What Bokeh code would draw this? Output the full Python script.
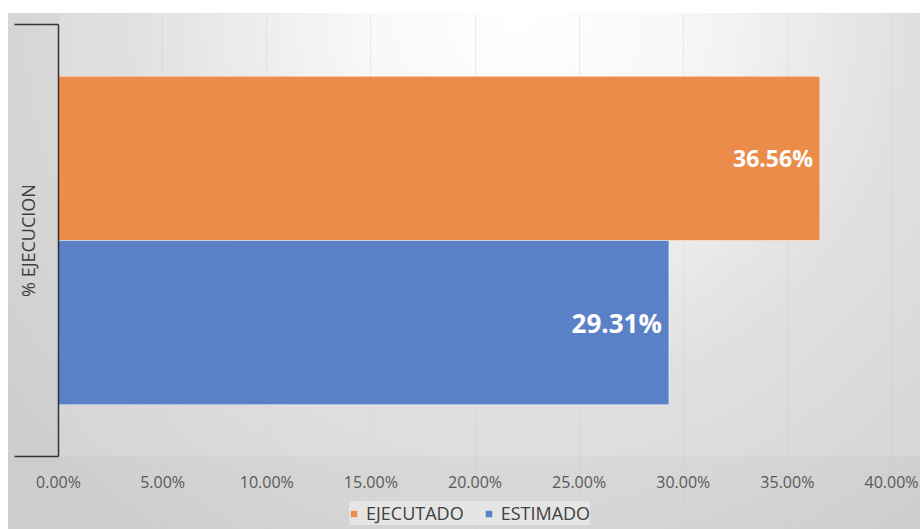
from bokeh.plotting import figure
from bokeh.models import (Range1d, FixedTicker, Legend, LegendItem, ColumnDataSource,
                          BoxAnnotation, Grid, LinearAxis)
from bokeh.core.properties import value
from bokeh.embed import file_html
from bokeh.resources import INLINE

# ---- data ----
category = "% EJECUCION"
series = ["EJECUTADO", "ESTIMADO"]
values = [36.56, 29.31]
value_labels = ["36.56%", "29.31%"]
x_ticks = [0, 5, 10, 15, 20, 25, 30, 35, 40]
x_tick_labels = ["0.00%", "5.00%", "10.00%", "15.00%", "20.00%",
                 "25.00%", "30.00%", "35.00%", "40.00%"]

# ---- styles / layout ----
colors = ["#EC8C4A", "#5A80C8"]
label_sizes = ["23px", "26px"]
FONT = "Open Sans"
group_width = 0.76
bar_h = group_width / len(series)

W, H = 912, 516
PX0, PX40 = 50, 883        # pixel columns of 0% and 40%
PY1, PY0 = 11, 443         # pixel rows of the category band top / bottom
ppx = (PX40 - PX0) / 40.0
ppy = float(PY0 - PY1)
x_lo, x_hi = -PX0 / ppx, 40 + (W - PX40) / ppx
y_lo, y_hi = -(H - PY0) / ppy, 1 + PY1 / ppy

p = figure(width=W, height=H, output_backend="svg", toolbar_location=None,
           x_range=Range1d(x_lo, x_hi), y_range=Range1d(y_lo, y_hi),
           min_border=0, x_axis_location=None, y_axis_location=None)
p.styles = {
    "margin-top": "13px",
    "margin-left": "8px",
    "background": "radial-gradient(circle at 56% 0%, #ffffff 0px, #f8f8f8 150px, #dcdcdc 390px, #cecece 640px)",
}
p.border_fill_color = None
p.background_fill_color = None
p.outline_line_color = None
# drop the default grids
p.center = [r for r in p.center if not isinstance(r, Grid)]

# lighter plot area
p.add_layout(BoxAnnotation(left=0, bottom=0, fill_color="white", fill_alpha=0.13,
                           line_color=None, level="underlay"))

xgrid = Grid(dimension=0, ticker=FixedTicker(ticks=x_ticks),
             grid_line_color="#c8c8c8", grid_line_alpha=0.3)
p.add_layout(xgrid)

renderers = []
for i, (name, v, c) in enumerate(zip(series, values, colors)):
    yc = 0.5 + group_width / 2 - bar_h * (i + 0.5)
    src = ColumnDataSource(dict(y=[yc], right=[v], label=[value_labels[i]]))
    r = p.hbar(y="y", right="right", left=0, height=bar_h, source=src,
               fill_color=c, line_color="white", line_alpha=0.45, line_width=1)
    renderers.append((name, r))
    p.text(x="right", y="y", text="label", source=src, x_offset=-7,
           text_align="right", text_baseline="middle", text_color="white",
           text_font=value(FONT), text_font_style="bold",
           text_font_size=label_sizes[i])

# x axis drawn at y = 0
xa = LinearAxis(fixed_location=0)
xa.ticker = FixedTicker(ticks=x_ticks)
xa.major_label_overrides = {t: s for t, s in zip(x_ticks, x_tick_labels)}
xa.axis_line_color = None
xa.major_tick_line_color = None
xa.minor_tick_line_color = None
xa.major_tick_out = 0
xa.major_tick_in = 0
xa.major_label_standoff = 14
xa.major_label_text_font = FONT
xa.major_label_text_font_size = "16px"
xa.major_label_text_color = "#595959"
p.add_layout(xa, "below")

# y (category) axis drawn at x = 0, bracket ticks at the band edges
ya = LinearAxis(fixed_location=0, bounds=(0, 1))
ya.ticker = FixedTicker(ticks=[0.5], minor_ticks=[0, 1])
ya.major_label_overrides = {0.5: category}
ya.major_label_orientation = "vertical"
ya.major_label_standoff = -25
ya.major_label_text_font = FONT
ya.major_label_text_font_size = "18px"
ya.major_label_text_color = "#404040"
ya.major_tick_line_color = None
ya.major_tick_out = 0
ya.major_tick_in = 0
ya.minor_tick_out = 44
ya.minor_tick_in = 0
ya.minor_tick_line_color = "#333333"
ya.minor_tick_line_width = 1.5
ya.axis_line_color = "#333333"
ya.axis_line_width = 1.5
p.add_layout(ya, "left")

legend = Legend(items=[LegendItem(label=n, renderers=[r]) for n, r in renderers],
                orientation="horizontal", location=(PX0 + 291, 4))
legend.background_fill_color = "#e9e9e9"
legend.background_fill_alpha = 0.75
legend.border_line_color = None
legend.label_text_font = FONT
legend.label_text_font_size = "18px"
legend.label_text_color = "#404040"
legend.label_height = 20
legend.glyph_width = 9
legend.glyph_height = 9
legend.label_standoff = 8
legend.spacing = 20
legend.padding = 8
legend.margin = 0
p.add_layout(legend, "center")

open("out.html", "w").write(file_html(p, INLINE))
